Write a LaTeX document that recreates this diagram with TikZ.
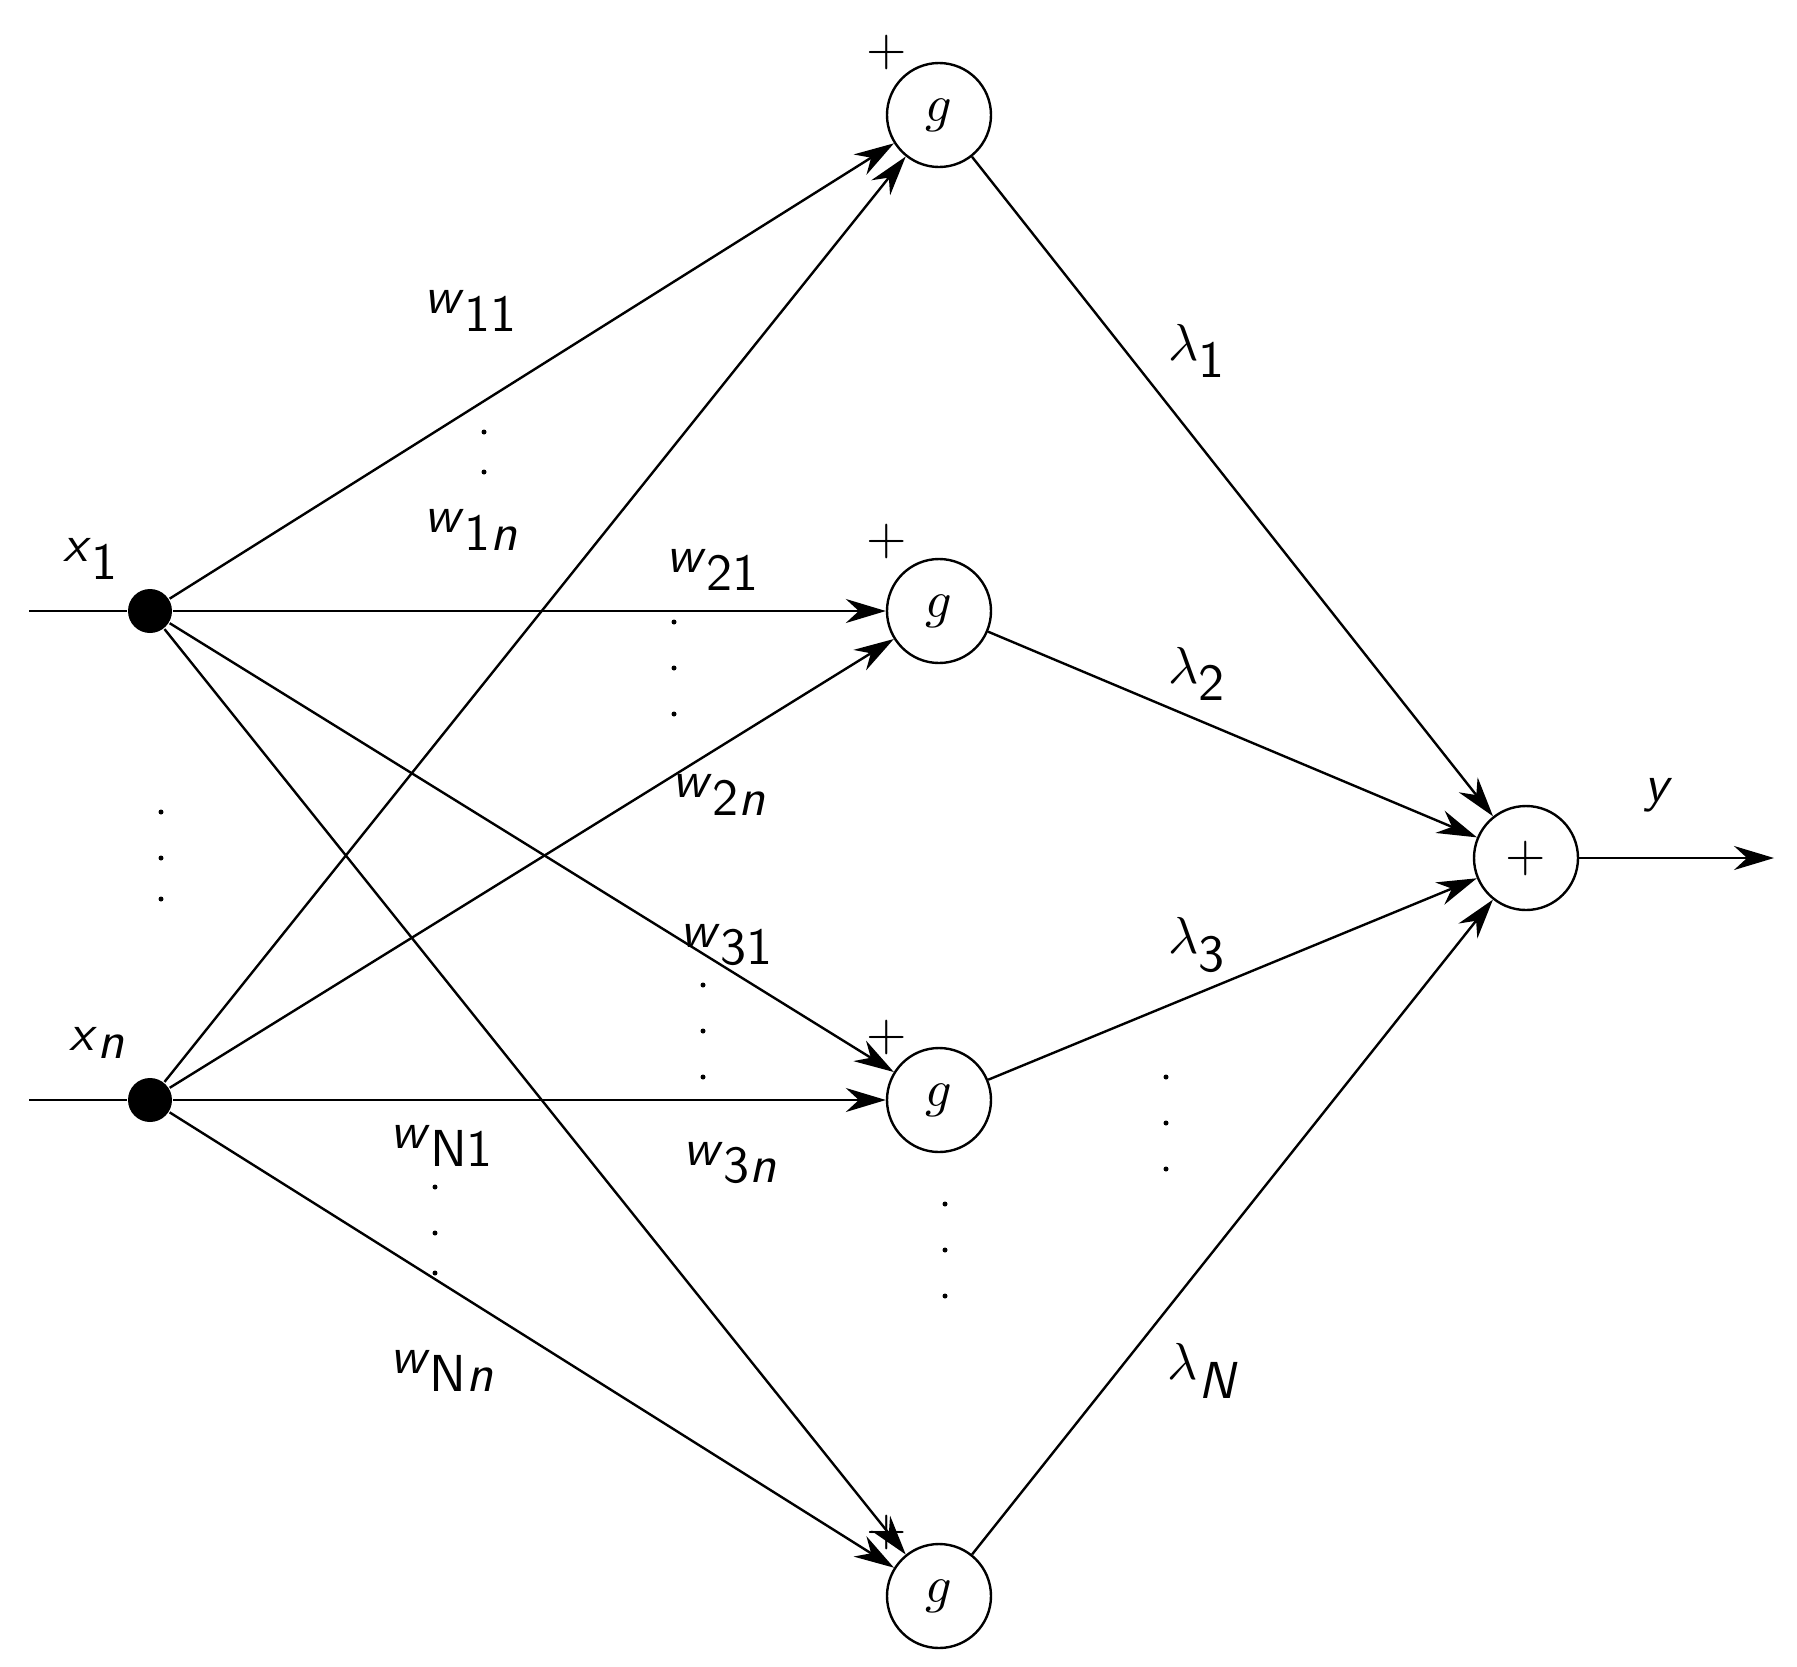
\documentclass[tikz,border=0pt]{standalone}
\usetikzlibrary{arrows.meta}
\begin{document}
\begin{tikzpicture}[x=1pt,y=-1pt,line width=2.4pt,
  lab/.style={scale=5.2,inner sep=0pt},
  gn/.style={circle,draw,minimum size=104pt,inner sep=0pt},
  dot/.style={circle,fill=black,minimum size=44pt,inner sep=0pt},
  arr/.style={-{Stealth[length=40pt,width=24pt]}},
  d/.style={circle,fill=black,minimum size=5pt,inner sep=0pt}]
\useasboundingbox (0,0) rectangle (1797,1666);
\newcommand{\sw}[1]{\textsf{\textit{w}}$_{\textsf{#1}}$}
\node[gn] (g1) at (939,115) {\scalebox{5.2}{$g$}};
\node[gn] (g2) at (939,611) {\scalebox{5.2}{$g$}};
\node[gn] (g3) at (939,1100) {\scalebox{5.2}{$g$}};
\node[gn] (g4) at (939,1596) {\scalebox{5.2}{$g$}};
\node[gn] (s) at (1526,858) {\scalebox{5.2}{$+$}};
\node[dot] (x1) at (150,611) {};
\node[dot] (xn) at (150,1100) {};
\coordinate (l1) at (29,611);
\coordinate (ln) at (29,1100);
\coordinate (out) at (1774,858);
\draw (l1) -- (x1); \draw (ln) -- (xn);
\foreach \g in {g1,g2,g3,g4}{
  \draw[arr] (x1) -- (\g);
  \draw[arr] (xn) -- (\g);
  \draw[arr] (\g) -- (s);}
\draw[arr] (s) -- (out);
\foreach \p/\t in {887/52,887/541,887/1037,887/1532}{\node[lab] (p\t) at (\p,\t) {$+$};}
\node[lab] (w11) at (472,311) {\sw{11}};
\node[lab] (w1n) at (472,530) {\sw{1\textit{n}}};
\node[lab] (w21) at (714,570) {\sw{21}};
\node[lab] (w2n) at (720,795) {\sw{2\textit{n}}};
\node[lab] (w31) at (728,945) {\sw{31}};
\node[lab] (w3n) at (731,1163) {\sw{3\textit{n}}};
\node[lab] (wN1) at (443,1146) {\sw{N1}};
\node[lab] (wNn) at (443,1371) {\sw{N\textit{n}}};
\node[lab] (lx1) at (92,559) {\textsf{\textit{x}}$_{\textsf{1}}$};
\node[lab] (lxn) at (98,1043) {\textsf{\textit{x}}$_{\textsf{\textit{n}}}$};
\node[lab] (la1) at (1198,351) {$\lambda_{\textsf{1}}$};
\node[lab] (la2) at (1198,674) {$\lambda_{\textsf{2}}$};
\node[lab] (la3) at (1198,945) {$\lambda_{\textsf{3}}$};
\node[lab] (laN) at (1204,1371) {$\lambda_{\textsf{\textit{N}}}$};
\node[lab] (ly) at (1659,795) {\textsf{\textit{y}}};
\foreach \x/\y in {484/432,484/472, 674/622,674/668,674/714, 703/985,703/1031,703/1077,
  435/1187,435/1233,435/1273, 161/812,161/858,161/899, 945/1204,945/1250,945/1296,
  1166/1077,1166/1123,1166/1169}{\node[d] (d\x\y) at (\x,\y) {};}
\end{tikzpicture}
\end{document}
